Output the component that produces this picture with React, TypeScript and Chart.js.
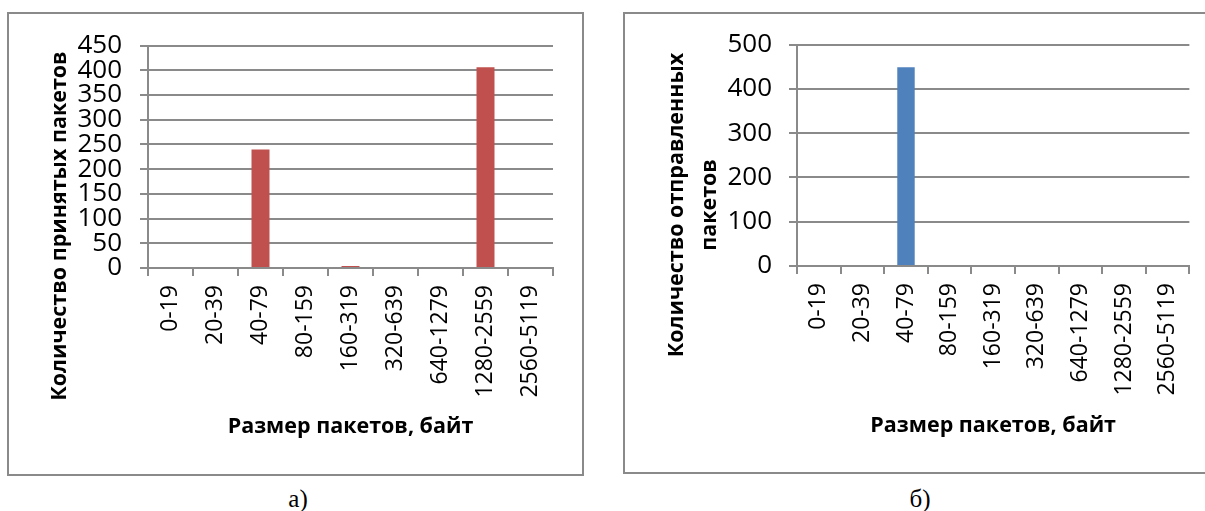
import React, { useEffect, useRef } from "react";
import { Chart, registerables } from "chart.js";

Chart.register(...registerables);

// ---- data ----
const categories = [
  "0-19",
  "20-39",
  "40-79",
  "80-159",
  "160-319",
  "320-639",
  "640-1279",
  "1280-2559",
  "2560-5119",
];
const receivedValues = [0, 0, 240, 0, 4, 0, 0, 406, 0];
const sentValues = [0, 0, 449, 0, 0, 2, 0, 0, 0];
const receivedYTicks = [0, 50, 100, 150, 200, 250, 300, 350, 400, 450];
const sentYTicks = [0, 100, 200, 300, 400, 500];
const xAxisTitle = "Размер пакетов, байт";
const receivedYTitle = ["Количество принятых пакетов"];
const sentYTitle = ["Количество отправленных", "пакетов"];
const captionLeft = "а)";
const captionRight = "б)";

// ---- styles ----
const FAMILY = "'Open Sans', 'DejaVu Sans', sans-serif";
const GRID = "#8a8a8a";
const RED = "#C0504D";
const BLUE = "#4F81BD";
const X_TICK_SIZE = 23;
const Y_TICK_SIZE = 26;

const yTitlePlugin = {
  id: "yTitleCustom",
  afterDraw(chart: any, _args: any, opts: any) {
    if (!opts || !opts.lines) return;
    const ctx = chart.ctx;
    ctx.save();
    ctx.translate(opts.x, opts.y);
    ctx.rotate(-Math.PI / 2);
    ctx.font = `bold ${opts.size}px ${FAMILY}`;
    ctx.fillStyle = "#000";
    ctx.textAlign = "center";
    ctx.textBaseline = "middle";
    const n = opts.lines.length;
    opts.lines.forEach((line: string, i: number) => {
      ctx.fillText(line, 0, (i - (n - 1) / 2) * opts.lineHeight);
    });
    ctx.restore();
  },
};

type PanelProps = {
  values: number[];
  color: string;
  yTicks: number[];
  yTitle: string[];
  width: number;
  height: number;
  plotLeft: number;
  plotTop: number;
  padRight: number;
  xHeight: number;
  xTitlePad: number;
  yLabelPad: number;
  titleX: number;
  titleY: number;
};

function BarPanel(p: PanelProps) {
  const ref = useRef<HTMLCanvasElement | null>(null);
  useEffect(() => {
    if (!ref.current) return;
    const step = p.yTicks[1] - p.yTicks[0];
    const chart = new Chart(ref.current, {
      type: "bar",
      data: {
        labels: categories,
        datasets: [
          {
            data: p.values,
            backgroundColor: p.color,
            barPercentage: 0.4,
            categoryPercentage: 1,
          },
        ],
      },
      options: {
        animation: false,
        responsive: false,
        devicePixelRatio: 1,
        layout: {
          padding: { left: 0, top: p.plotTop, right: p.padRight, bottom: 0 },
        },
        plugins: {
          legend: { display: false },
          tooltip: { enabled: false },
          // @ts-ignore
          yTitleCustom: {
            lines: p.yTitle,
            x: p.titleX,
            y: p.titleY,
            size: 21.5,
            lineHeight: 33,
          },
        },
        scales: {
          x: {
            grid: {
              display: true,
              drawOnChartArea: false,
              drawTicks: true,
              tickLength: 8,
              color: GRID,
              lineWidth: 2,
              offset: true,
            },
            border: { display: true, color: GRID, width: 2 },
            ticks: {
              minRotation: 90,
              maxRotation: 90,
              autoSkip: false,
              padding: 9,
              color: "#000",
              font: { family: FAMILY, size: X_TICK_SIZE },
            },
            title: {
              display: true,
              text: xAxisTitle,
              color: "#000",
              font: { family: FAMILY, size: 21.5, weight: "bold" },
              padding: { top: 0, bottom: p.xTitlePad },
            },
            afterFit: (s: any) => {
              s.height = p.xHeight;
            },
          },
          y: {
            min: p.yTicks[0],
            max: p.yTicks[p.yTicks.length - 1],
            ticks: {
              stepSize: step,
              autoSkip: false,
              padding: p.yLabelPad,
              color: "#000",
              font: { family: FAMILY, size: Y_TICK_SIZE },
            },
            grid: { color: GRID, lineWidth: 2, tickLength: 8, drawTicks: true },
            border: { display: true, color: GRID, width: 2 },
            afterFit: (s: any) => {
              s.width = p.plotLeft;
            },
          },
        },
      } as any,
      plugins: [yTitlePlugin],
    });
    return () => chart.destroy();
  }, []);
  return (
    <canvas
      ref={ref}
      width={p.width}
      height={p.height}
      style={{ display: "block", width: p.width, height: p.height }}
    />
  );
}

const captionStyle = (left: number): React.CSSProperties => ({
  position: "absolute",
  left,
  top: 486,
  width: 100,
  textAlign: "center",
  fontFamily: "'Liberation Serif', 'Times New Roman', serif",
  fontSize: 25,
  lineHeight: "25px",
});

export default function App() {
  return (
    <div
      style={{
        position: "absolute",
        left: 0,
        top: 0,
        width: 1205,
        height: 511,
        overflow: "hidden",
        background: "#fff",
      }}
    >
      {/* left chart */}
      <div style={{ position: "absolute", left: 7, top: 12 }}>
        <BarPanel
          values={receivedValues}
          color={RED}
          yTicks={receivedYTicks}
          yTitle={receivedYTitle}
          width={577}
          height={464}
          plotLeft={141}
          plotTop={31}
          padRight={31}
          xHeight={208}
          xTitlePad={36}
          yLabelPad={18}
          titleX={53}
          titleY={214}
        />
      </div>
      <div
        style={{
          position: "absolute",
          left: 7,
          top: 12,
          width: 577,
          height: 464,
          border: "2px solid #8a8a8a",
          boxSizing: "border-box",
          pointerEvents: "none",
        }}
      />
      {/* right chart */}
      <div style={{ position: "absolute", left: 623, top: 12 }}>
        <BarPanel
          values={sentValues}
          color={BLUE}
          yTicks={sentYTicks}
          yTitle={sentYTitle}
          width={582}
          height={462}
          plotLeft={174}
          plotTop={31}
          padRight={15}
          xHeight={208}
          xTitlePad={35}
          yLabelPad={17}
          titleX={70}
          titleY={193}
        />
      </div>
      <div
        style={{
          position: "absolute",
          left: 623,
          top: 12,
          width: 600,
          height: 462,
          border: "2px solid #8a8a8a",
          boxSizing: "border-box",
          pointerEvents: "none",
        }}
      />
      {/* captions */}
      <div style={captionStyle(248)}>{captionLeft}</div>
      <div style={captionStyle(870)}>{captionRight}</div>
    </div>
  );
}
